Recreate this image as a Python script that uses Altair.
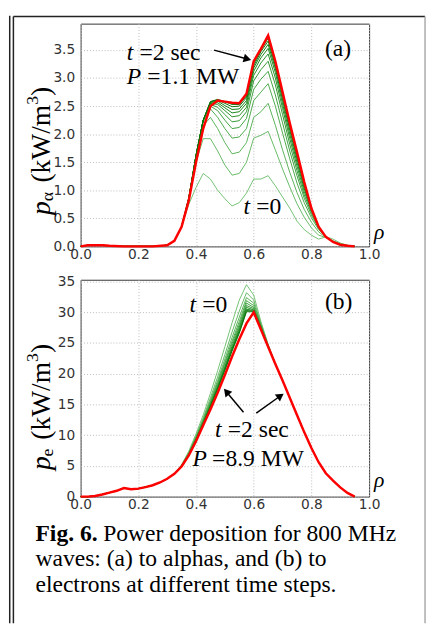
import altair as alt
import pandas as pd

# ---------------- data: panel (a) alpha power ----------------
rho_a = [0.0, 0.025, 0.05, 0.075, 0.1, 0.15, 0.2, 0.25, 0.3, 0.325, 0.35,
         0.375, 0.4, 0.425, 0.45, 0.475, 0.5, 0.525, 0.55, 0.575, 0.6, 0.625,
         0.65, 0.675, 0.7, 0.725, 0.75, 0.775, 0.8, 0.825, 0.85, 0.875, 0.9,
         0.925, 0.95]
head_a = [0.0, 0.02, 0.02, 0.02, 0.01, 0.0, 0.0, 0.0, 0.02, 0.1, 0.35]
a_t00 = [0.75, 1.05, 1.30, 1.20, 1.00, 0.85, 0.72, 0.78, 0.95, 1.20, 1.20, 1.26, 1.08, 0.88, 0.68, 0.45, 0.30, 0.20, 0.13, 0.17, 0.13, 0.06, 0.02, 0.0]
a_t01 = [0.82, 1.50, 1.92, 1.92, 1.70, 1.45, 1.27, 1.30, 1.50, 1.93, 1.98, 2.05, 1.72, 1.38, 1.06, 0.76, 0.52, 0.33, 0.20, 0.16, 0.10, 0.05, 0.02, 0.0]
a_t02 = [0.85, 1.58, 2.15, 2.30, 2.10, 1.85, 1.65, 1.68, 1.85, 2.30, 2.40, 2.55, 2.16, 1.72, 1.32, 0.96, 0.66, 0.43, 0.26, 0.16, 0.09, 0.04, 0.01, 0.0]
a_t03 = [0.86, 1.60, 2.22, 2.45, 2.30, 2.10, 1.93, 1.95, 2.10, 2.60, 2.75, 2.90, 2.50, 2.02, 1.56, 1.13, 0.78, 0.51, 0.30, 0.17, 0.08, 0.04, 0.01, 0.0]
a_t04 = [0.86, 1.62, 2.25, 2.50, 2.42, 2.25, 2.10, 2.12, 2.28, 2.80, 2.98, 3.12, 2.70, 2.20, 1.70, 1.26, 0.86, 0.56, 0.32, 0.17, 0.08, 0.03, 0.01, 0.0]
a_t05 = [0.86, 1.62, 2.25, 2.53, 2.48, 2.35, 2.22, 2.24, 2.40, 2.95, 3.15, 3.30, 2.88, 2.35, 1.82, 1.35, 0.92, 0.60, 0.33, 0.17, 0.08, 0.03, 0.01, 0.0]
a_t06 = [0.86, 1.62, 2.25, 2.55, 2.53, 2.42, 2.31, 2.33, 2.48, 3.05, 3.27, 3.43, 3.00, 2.46, 1.92, 1.43, 0.98, 0.63, 0.34, 0.17, 0.08, 0.03, 0.01, 0.0]
a_t07 = [0.86, 1.62, 2.25, 2.56, 2.56, 2.47, 2.38, 2.40, 2.55, 3.12, 3.36, 3.53, 3.10, 2.54, 2.00, 1.50, 1.03, 0.65, 0.35, 0.17, 0.08, 0.03, 0.01, 0.0]
a_t08 = [0.86, 1.62, 2.25, 2.57, 2.59, 2.51, 2.44, 2.45, 2.60, 3.18, 3.42, 3.60, 3.17, 2.61, 2.07, 1.56, 1.07, 0.66, 0.35, 0.17, 0.08, 0.03, 0.01, 0.0]
a_t09 = [0.86, 1.62, 2.25, 2.58, 2.61, 2.55, 2.49, 2.50, 2.65, 3.22, 3.47, 3.66, 3.22, 2.67, 2.12, 1.61, 1.10, 0.67, 0.35, 0.17, 0.08, 0.03, 0.01, 0.0]
a_t10 = [0.86, 1.62, 2.25, 2.58, 2.62, 2.58, 2.53, 2.53, 2.68, 3.26, 3.50, 3.71, 3.26, 2.72, 2.16, 1.65, 1.13, 0.68, 0.35, 0.17, 0.08, 0.03, 0.01, 0.0]
a_final = [0.82, 1.50, 2.10, 2.50, 2.60, 2.58, 2.56, 2.55, 2.72, 3.30, 3.52, 3.76, 3.30, 2.75, 2.20, 1.68, 1.15, 0.68, 0.35, 0.17, 0.08, 0.03, 0.01, 0.0]

# ---------------- data: panel (b) electron power ----------------
rho_b = [0.0, 0.025, 0.05, 0.075, 0.1, 0.125, 0.15, 0.175, 0.2, 0.225, 0.25,
         0.275, 0.3, 0.325, 0.35, 0.375, 0.4, 0.425, 0.45, 0.475, 0.5, 0.525,
         0.55, 0.575, 0.6, 0.625, 0.65, 0.675, 0.7, 0.725, 0.75, 0.775, 0.8,
         0.825, 0.85, 0.875, 0.9, 0.925, 0.95]
head_b = [0.0, 0.0, 0.1, 0.35, 0.65, 0.95, 1.4, 1.2, 1.3, 1.55, 1.85, 2.3, 2.9, 3.7]
tail_b = [21.6, 18.9, 16.1, 13.3, 10.5, 7.9, 5.6, 3.8, 2.6, 1.5, 0.6, 0.0]
b_t00 = [5.2, 7.4, 10.2, 13.3, 16.8, 20.5, 24.4, 28.3, 32.0, 34.5, 32.8, 28.5, 24.8]
b_t01 = [5.1, 7.2, 9.9, 12.8, 16.1, 19.5, 23.1, 26.8, 30.2, 33.2, 32.0, 28.2, 24.7]
b_t02 = [5.1, 7.1, 9.7, 12.6, 15.7, 18.9, 22.4, 25.9, 29.2, 32.4, 31.5, 28.0, 24.6]
b_t03 = [5.0, 7.0, 9.6, 12.4, 15.4, 18.6, 21.9, 25.3, 28.5, 31.9, 31.1, 27.9, 24.6]
b_t04 = [5.0, 7.0, 9.5, 12.3, 15.2, 18.3, 21.6, 24.9, 28.0, 31.5, 30.8, 27.8, 24.5]
b_t05 = [5.0, 6.9, 9.4, 12.1, 15.0, 18.0, 21.2, 24.5, 27.6, 31.1, 30.6, 27.7, 24.5]
b_t06 = [5.0, 6.9, 9.3, 12.0, 14.9, 17.8, 21.0, 24.2, 27.3, 30.8, 30.4, 27.6, 24.5]
b_t07 = [5.0, 6.9, 9.3, 12.0, 14.8, 17.7, 20.8, 24.0, 27.0, 30.5, 30.3, 27.5, 24.5]
b_t08 = [5.0, 6.8, 9.2, 11.9, 14.7, 17.6, 20.7, 23.9, 26.8, 30.3, 30.2, 27.4, 24.4]
b_t09 = [5.0, 6.8, 9.2, 11.9, 14.6, 17.5, 20.5, 23.7, 26.6, 30.1, 30.1, 27.4, 24.4]
b_final = [4.9, 6.7, 9.0, 11.6, 14.2, 16.9, 19.8, 22.8, 25.6, 28.2, 30.0, 27.2, 24.4]

x_ticks = [0.0, 0.2, 0.4, 0.6, 0.8, 1.0]
ya_ticks = [0.0, 0.5, 1.0, 1.5, 2.0, 2.5, 3.0, 3.5]
yb_ticks = [0, 5, 10, 15, 20, 25, 30, 35]

greens = ["#74c274", "#67ba67", "#5ab25a", "#4daa4d", "#40a240", "#349934",
          "#289128", "#1d881d", "#137f13", "#0b770b", "#046f04"]

green_a = [a_t00, a_t01, a_t02, a_t03, a_t04, a_t05, a_t06, a_t07, a_t08, a_t09, a_t10]
green_b = [b_t00, b_t01, b_t02, b_t03, b_t04, b_t05, b_t06, b_t07, b_t08, b_t09]
names_a = ["a%02d" % i for i in range(len(green_a))]
names_b = ["b%02d" % i for i in range(len(green_b))]

rows = []
for n, v in zip(names_a, green_a):
    for r, p in zip(rho_a, head_a + v):
        rows.append({"rho": r, "p": p, "curve": n})
df_ga = pd.DataFrame(rows)
df_ra = pd.DataFrame({"rho": rho_a, "p": head_a + a_final})

rows = []
for n, v in zip(names_b, green_b):
    for r, p in zip(rho_b, head_b + v + tail_b):
        rows.append({"rho": r, "p": p, "curve": n})
df_gb = pd.DataFrame(rows)
df_rb = pd.DataFrame({"rho": rho_b, "p": head_b + b_final + tail_b})

# ---------------- helpers ----------------
SERIF = "Liberation Serif"
W, HA, HB = 294, 227, 221


def enc_xy(ydom, yvals, yfmt):
    x = alt.X("rho:Q", scale=alt.Scale(domain=[0, 1], nice=False, zero=False),
              axis=alt.Axis(values=x_ticks, format=".1f", title=None,
                            labelFlush=False, labelPadding=1))
    y = alt.Y("p:Q", scale=alt.Scale(domain=ydom, nice=False, zero=False),
              axis=alt.Axis(values=yvals, format=yfmt, title=None,
                            labelFlush=False, labelPadding=6))
    return x, y


def label(s, x, y, size=24, italic=False, bold=False, angle=0, color="black"):
    return alt.Chart(pd.DataFrame({"s": [s]})).mark_text(
        align="left", baseline="alphabetic", font=SERIF, fontSize=size,
        fontStyle="italic" if italic else "normal",
        fontWeight="bold" if bold else "normal", angle=angle, color=color,
    ).encode(text="s:N", x=alt.value(x), y=alt.value(y))


def seg(x1, y1, x2, y2, w=1.5, color="black"):
    return alt.Chart(pd.DataFrame({"k": [0]})).mark_rule(
        strokeWidth=w, color=color
    ).encode(x=alt.value(x1), y=alt.value(y1), x2=alt.value(x2), y2=alt.value(y2))


def head(x, y, ang, size=70):
    return alt.Chart(pd.DataFrame({"k": [0]})).mark_point(
        shape="triangle-right", filled=True, size=size, angle=ang,
        color="black", opacity=1
    ).encode(x=alt.value(x), y=alt.value(y))


# ---------------- panel (a) ----------------
xa, ya = enc_xy([0, 3.97], ya_ticks, ".1f")
lines_ga = alt.Chart(df_ga).mark_line(strokeWidth=1).encode(
    x=xa, y=ya,
    color=alt.Color("curve:N", scale=alt.Scale(domain=names_a, range=greens), legend=None),
)
line_ra = alt.Chart(df_ra).mark_line(strokeWidth=2.5, color="#ff0000").encode(x=xa, y=ya)

ann_a = [
    label("t", 47, 37, italic=True),
    label("=2 sec", 60, 37),
    label("P", 47, 62, italic=True),
    label("=1.1 MW", 68, 62),
    label("(a)", 249, 33),
    label("t", 166, 194, italic=True),
    label("=0", 179, 194),
    label("ρ", 299, 219, size=22, italic=True),
    seg(136, 27, 168, 35.5, 1.5),
    head(170, 36, 14.7, 80),
    # y title
    label("p", -31, 195, size=28, italic=True, angle=270),
    label("α", -28.5, 181, size=18, angle=270),
    label("(kW/m", -31, 162, size=28, angle=270),
    label("3", -43, 82.7, size=18, angle=270),
    label(")", -31, 73.7, size=28, angle=270),
    # frame of the page
    seg(-72.25, -8, -72.25, 611, 1.5, "#222"),
    seg(-68.5, -7.25, -68.5, 611, 1.5, "#222"),
    seg(-68.5, -7.25, 351, -7.25, 1.5, "#222"),
    seg(351, -7.25, 351, 611, 1.5, "#aaaaaa"),
]
panel_a = alt.layer(lines_ga, line_ra, *ann_a).properties(width=W, height=HA)

# ---------------- panel (b) ----------------
xb, yb = enc_xy([0, 35.3], yb_ticks, "d")
lines_gb = alt.Chart(df_gb).mark_line(strokeWidth=1).encode(
    x=xb, y=yb,
    color=alt.Color("curve:N", scale=alt.Scale(domain=names_b, range=greens[:10]), legend=None),
)
line_rb = alt.Chart(df_rb).mark_line(strokeWidth=2.5, color="#ff0000").encode(x=xb, y=yb)

ann_b = [
    label("t", 111, 33, italic=True),
    label("=0", 124, 33),
    label("(b)", 249, 30),
    label("t", 137, 160, italic=True),
    label("=2 sec", 150, 160),
    label("P", 114, 190, italic=True),
    label("=8.9 MW", 134, 190),
    label("ρ", 299, 211, size=22, italic=True),
    seg(166, 135, 150, 116, 1.5),
    head(148.6, 114.1, 230.2, 80),
    seg(179, 136, 202, 119.5, 1.5),
    head(203.7, 118.3, 324.5, 80),
    # y title
    label("p", -31, 194, size=28, italic=True, angle=270),
    label("e", -28.5, 180, size=18, angle=270),
    label("(kW/m", -31, 163, size=28, angle=270),
    label("3", -43, 83.7, size=18, angle=270),
    label(")", -31, 74.7, size=28, angle=270),
    # caption
    label("Fig. 6.", -46, 266, bold=True),
    label("Power deposition for 800 MHz", 23, 266),
    label("waves: (a) to alphas, and (b) to", -46, 292),
    label("electrons at different time steps.", -46, 318),
]
panel_b = alt.layer(lines_gb, line_rb, *ann_b).properties(width=W, height=HB)

chart = alt.vconcat(panel_a, panel_b, spacing=34).properties(
    bounds="flush", padding=0
).configure_view(
    stroke="#333333", strokeWidth=1
).configure_axis(
    labelFont="DejaVu Sans", labelFontSize=14, labelColor="#333333",
    grid=True, gridColor="#bbbbbb", gridDash=[1, 2], gridWidth=1,
    domain=False, ticks=False,
)

chart.save("out.html", embed_options={"renderer": "svg", "actions": False})
